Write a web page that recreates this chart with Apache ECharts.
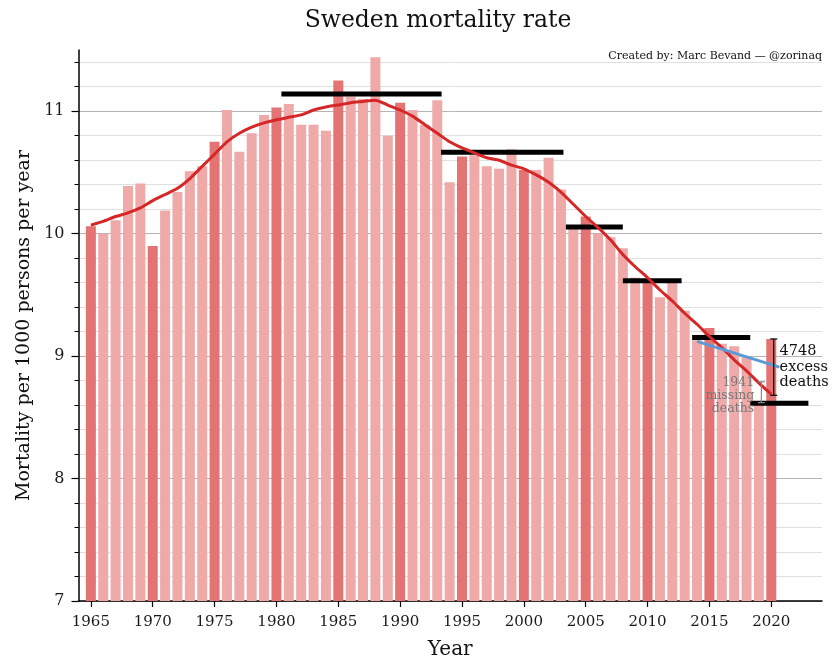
<!DOCTYPE html>
<html><head><meta charset="utf-8">
<script src="https://cdn.jsdelivr.net/npm/echarts@6/dist/echarts.min.js"></script>
<style>html,body{margin:0;padding:0;background:#fff}#c{width:840px;height:665px}</style>
</head><body><div id="c"></div>
<script>
const years = [1965,1966,1967,1968,1969,1970,1971,1972,1973,1974,1975,1976,1977,1978,1979,
  1980,1981,1982,1983,1984,1985,1986,1987,1988,1989,1990,1991,1992,1993,1994,1995,1996,1997,
  1998,1999,2000,2001,2002,2003,2004,2005,2006,2007,2008,2009,2010,2011,2012,2013,2014,2015,
  2016,2017,2018,2019,2020];
const mortality = [10.06,10.00,10.11,10.39,10.41,9.90,10.19,10.34,10.51,10.55,10.75,11.01,10.67,
  10.82,10.97,11.03,11.06,10.89,10.89,10.84,11.25,11.12,11.10,11.44,10.80,11.07,11.01,10.89,
  11.09,10.42,10.63,10.64,10.55,10.53,10.69,10.52,10.52,10.62,10.36,10.04,10.14,10.00,9.97,
  9.88,9.64,9.60,9.48,9.60,9.37,9.13,9.23,9.10,9.08,9.00,8.62,9.14];
const trend = [10.07,10.10,10.14,10.17,10.21,10.27,10.32,10.37,10.45,10.55,10.65,10.75,10.82,
  10.87,10.905,10.93,10.95,10.97,11.01,11.035,11.05,11.07,11.08,11.09,11.05,11.01,10.96,10.89,
  10.82,10.75,10.70,10.66,10.62,10.60,10.56,10.53,10.48,10.42,10.34,10.24,10.14,10.05,9.95,
  9.83,9.73,9.64,9.54,9.45,9.35,9.26,9.16,9.07,8.97,8.88,8.78,8.69];
const xTickLabels = [1965,1970,1975,1980,1985,1990,1995,2000,2005,2010,2015,2020];
const yTickLabels = [7,8,9,10,11];
const yMinorTicks = [7.2,7.4,7.6,7.8,8.2,8.4,8.6,8.8,9.2,9.4,9.6,9.8,10.2,10.4,10.6,10.8,
  11.2,11.4];
const segStart = [1980.4,1993.3,2003.4,2008.0,2013.6,2018.3];
const segEnd   = [1993.35,2003.2,2008.0,2012.75,2018.3,2023.0];
const segValue = [11.14,10.665,10.055,9.615,9.152,8.615];
const blueX = [2014.0,2020.65];
const blueY = [9.12,8.91];
const excessBar = [2020.2,9.14,8.68];
const missingBar = [2019.2,8.79,8.62];
const excessLabel = '4748\nexcess\ndeaths';
const excessAnchor = [2020.67,9.10];
const missingLabel = '1941\nmissing\ndeaths';
const missingAnchor = [2018.62,8.835];
const titleText = 'Sweden mortality rate';
const creditText = 'Created by: Marc Bevand \u2014 @zorinaq';

const FONT = 'DejaVu Serif';
const chart = echarts.init(document.getElementById('c'), null, {renderer:'canvas'});

function errorBar(color, cap){
  return function(params, api){
    const top = api.coord([api.value(0), api.value(1)]);
    const bot = api.coord([api.value(0), api.value(2)]);
    const st = {stroke: color, lineWidth: 1.2};
    return {type:'group', children:[
      {type:'line', shape:{x1:top[0],y1:top[1],x2:bot[0],y2:bot[1]}, style:st},
      {type:'line', shape:{x1:top[0]-cap,y1:top[1],x2:top[0]+cap,y2:top[1]}, style:st},
      {type:'line', shape:{x1:bot[0]-cap,y1:bot[1],x2:bot[0]+cap,y2:bot[1]}, style:st}
    ]};
  };
}
function textItem(label, color, size, lh, align){
  return function(params, api){
    const p = api.coord([api.value(0), api.value(1)]);
    return {type:'text', x:p[0], y:p[1], style:{text:label, fill:color, fontSize:size,
      fontFamily:FONT, lineHeight:lh, align:align, verticalAlign:'top'}};
  };
}

chart.setOption({
  animation:false,
  backgroundColor:'#fff',
  title:[
    {text:titleText, left:433, top:4, textAlign:'center',
     textStyle:{fontFamily:FONT, fontSize:23.5, fontWeight:'normal', color:'#111'}},
    {text:creditText, right:13, top:46,
     textStyle:{fontFamily:FONT, fontSize:11, fontWeight:'normal', color:'#111'}}
  ],
  grid:{left:78.5, right:18, top:50, bottom:62, containLabel:false},
  xAxis:{type:'value', min:1964, max:2024.1,
    axisLine:{show:true, lineStyle:{color:'#000', width:1.5}},
    axisTick:{show:true, customValues:xTickLabels, length:6, lineStyle:{color:'#000', width:1.2}},
    axisLabel:{customValues:xTickLabels, formatter:v=>String(v), color:'#1a1a1a', fontFamily:FONT, fontSize:15, margin:14},
    splitLine:{show:false},
    name:'Year', nameLocation:'middle', nameGap:39,
    nameTextStyle:{fontFamily:FONT, fontSize:20, color:'#111'}
  },
  yAxis:[
    {type:'value', min:7, max:11.5, position:'left',
     axisLine:{show:true, lineStyle:{color:'#000', width:1.5}},
     axisTick:{show:true, customValues:yTickLabels, length:7, lineStyle:{color:'#000', width:1.2}},
     axisLabel:{customValues:yTickLabels, formatter:v=>String(v), color:'#1a1a1a', fontFamily:FONT, fontSize:16, margin:14},
     splitLine:{show:true, lineStyle:{color:'#b5b5b5', width:1}},
     name:'Mortality per 1000 persons per year', nameLocation:'middle', nameGap:42,
     nameTextStyle:{fontFamily:FONT, fontSize:19, color:'#111'}
    },
    {type:'value', min:7, max:11.5, position:'left',
     axisLine:{show:false},
     axisTick:{show:true, customValues:yMinorTicks, length:4, lineStyle:{color:'#000', width:1}},
     axisLabel:{show:false},
     splitLine:{show:true, lineStyle:{color:'#e0e0e0', width:1}}
    }
  ],
  series:[
    {type:'bar', data:years.map((y,i)=>[y, mortality[i]]), barWidth:10, z:2,
     itemStyle:{color:p=>(p.data[0]%5===0 ? '#e47474' : '#efa9a9')}},
    {type:'custom', z:3, data:segStart.map((s,i)=>[s, segEnd[i], segValue[i]]),
     encode:{x:[0,1], y:2},
     renderItem:function(params, api){
       const a = api.coord([api.value(0), api.value(2)]);
       const b = api.coord([api.value(1), api.value(2)]);
       return {type:'line', shape:{x1:a[0],y1:a[1],x2:b[0],y2:b[1]}, style:{stroke:'#000', lineWidth:5}};
     }},
    {type:'line', z:4, data:years.map((y,i)=>[y, trend[i]]), showSymbol:false, smooth:0.2,
     lineStyle:{color:'#d62728', width:3}},
    {type:'line', z:5, data:blueX.map((x,i)=>[x, blueY[i]]), showSymbol:false,
     lineStyle:{color:'#5b9bd5', width:3}},
    {type:'custom', z:6, data:[excessBar], encode:{x:0, y:[1,2]}, renderItem:errorBar('#000', 3.5)},
    {type:'custom', z:6, data:[missingBar], encode:{x:0, y:[1,2]}, renderItem:errorBar('#888', 3.5)},
    {type:'custom', z:7, data:[excessAnchor], encode:{x:0, y:1}, renderItem:textItem(excessLabel, '#111', 14.5, 15.5, 'left')},
    {type:'custom', z:7, data:[missingAnchor], encode:{x:0, y:1}, renderItem:textItem(missingLabel, '#777', 12.5, 13, 'right')}
  ]
});
</script></body></html>
